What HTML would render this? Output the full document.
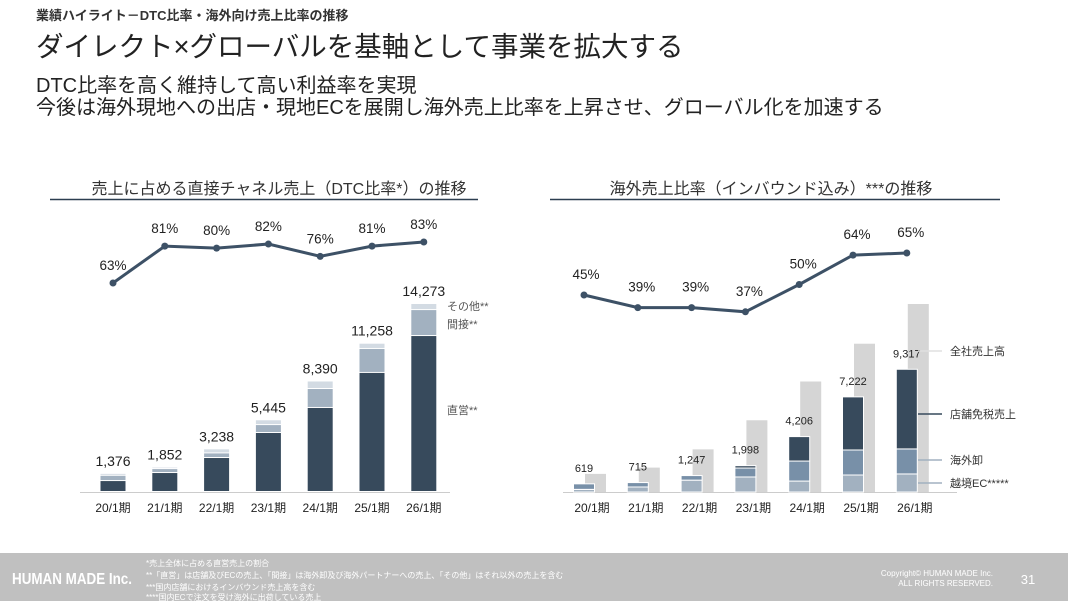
<!DOCTYPE html>
<html><head><meta charset="utf-8"><style>
body{margin:0;width:1068px;height:601px;overflow:hidden;background:#fff;font-family:"Liberation Sans","Noto Sans CJK JP",sans-serif;color:#222}
svg text{font-family:"Liberation Sans","Noto Sans CJK JP",sans-serif}
</style></head><body>
<svg id="s" width="1068" height="601" xmlns="http://www.w3.org/2000/svg">
<text x="36" y="20" font-size="13" font-weight="bold" fill="#333">業績ハイライト－DTC比率・海外向け売上比率の推移</text>
<text x="36" y="56" font-size="27.5" fill="#222">ダイレクト×グローバルを基軸として事業を拡大する</text>
<text x="36" y="92" font-size="20" fill="#222">DTC比率を高く維持して高い利益率を実現</text>
<text x="36" y="114" font-size="20" fill="#222">今後は海外現地への出店・現地ECを展開し海外売上比率を上昇させ、グローバル化を加速する</text>
<text x="279" y="194" font-size="16" text-anchor="middle" fill="#333">売上に占める直接チャネル売上（DTC比率*）の推移</text>
<line x1="50" y1="199.5" x2="478" y2="199.5" stroke="#2c3e50" stroke-width="1.5"/>
<text x="771" y="194" font-size="16" text-anchor="middle" fill="#333">海外売上比率（インバウンド込み）***の推移</text>
<line x1="550" y1="199.5" x2="1000" y2="199.5" stroke="#2c3e50" stroke-width="1.5"/>
<g id="L"></g><g id="R"></g>
<rect x="0" y="553" width="1068" height="48" fill="#c0c0c0"/>
<text x="12" y="584" font-size="16" font-weight="bold" fill="#fff" textLength="120" lengthAdjust="spacingAndGlyphs">HUMAN MADE Inc.</text>
<g font-size="8" fill="#fff">
<text x="146" y="566">*売上全体に占める直営売上の割合</text>
<text x="146" y="578">**「直営」は店舗及びECの売上、「間接」は海外卸及び海外パートナーへの売上、「その他」はそれ以外の売上を含む</text>
<text x="146" y="590">***国内店舗におけるインバウンド売上高を含む</text>
<text x="146" y="600">****国内ECで注文を受け海外に出荷している売上</text>
</g>
<text x="993" y="576" font-size="8" text-anchor="end" fill="#fff">Copyright© HUMAN MADE Inc.</text>
<text x="993" y="586" font-size="8" text-anchor="end" fill="#fff">ALL RIGHTS RESERVED.</text>
<text x="1028" y="584" font-size="13" text-anchor="middle" fill="#fff">31</text>
</svg>
<script>
const periods=["20/1期","21/1期","22/1期","23/1期","24/1期","25/1期","26/1期"];
const totalSales=[1376,1852,3238,5445,8390,11258,14273];
const direct=[830,1440,2580,4480,6380,9040,11840];
const indirect=[400,300,350,600,1440,1820,1970];
const other=[146,112,308,365,570,398,463];
const dtcRate=[63,81,80,82,76,81,83];
const overseasTotal=[619,715,1247,1998,4206,7222,9317];
const crossEC=[200,380,900,1140,830,1290,1370];
const wholesale=[419,335,347,680,1520,1900,1900];
const storeTaxFree=[0,0,0,178,1856,4032,6047];
const overseasRate=[45,39,39,37,50,64,65];

const NS="http://www.w3.org/2000/svg";
function mk(p,t,a,txt){const e=document.createElementNS(NS,t);for(const k in a)e.setAttribute(k,a[k]);if(txt!==undefined)e.textContent=txt;p.appendChild(e);return e;}
const base=492,scale=188/14273;
const yv=v=>base-v*scale;
const xL=i=>113+i*51.8;
const xR=i=>584+i*53.8;
const yPL=v=>283-(v-63)*2.05;
const yPR=v=>295-(v-45)*2.1;
const L=document.getElementById('L'),R=document.getElementById('R');

let e=mk(L,'line',{x1:80,y1:base+0.5,x2:450,y2:base+0.5,stroke:'#ccc'});


periods.forEach((p,i)=>{
  const x=xL(i),w=25;let y=base;
  [[direct[i],'#374a5c','bar-direct'],[indirect[i],'#a2b1c0','bar-indirect'],[other[i],'#d3dbe3','bar-other']].forEach(([v,c,n])=>{
    const h=v*scale;
    const r=mk(L,'rect',{x:x-w/2,y:y-h,width:w,height:Math.max(h-1,0),fill:c});
    
    
    y-=h;
  });
  const t=mk(L,'text',{x:x,y:yv(totalSales[i])-8,'font-size':14,'text-anchor':'middle',fill:'#222'},totalSales[i].toLocaleString('en-US'));
  
  
  const a=mk(L,'text',{x:x,y:512,'font-size':12,'text-anchor':'middle',fill:'#222'},p);
  
  
});
e=mk(L,'polyline',{points:dtcRate.map((v,i)=>xL(i)+','+yPL(v)).join(' '),fill:'none',stroke:'#3d5166','stroke-width':3});


dtcRate.forEach((v,i)=>{
  const c=mk(L,'circle',{cx:xL(i),cy:yPL(v),r:3.5,fill:'#3d5166'});
  
  
  const t=mk(L,'text',{x:xL(i),y:yPL(v)-13,'font-size':13.5,'text-anchor':'middle',fill:'#222'},v+'%');
  
  
});
[['その他**',310,'#555','legend-other'],['間接**',328,'#555','legend-indirect'],['直営**',414,'#555','legend-direct']].forEach(([s,y,c,n])=>{
  const t=mk(L,'text',{x:447,y:y,'font-size':11,fill:c},s);
  
  
});

e=mk(R,'line',{x1:563,y1:base+0.5,x2:957,y2:base+0.5,stroke:'#ccc'});


periods.forEach((p,i)=>{
  const x=xR(i),w=21;
  const g=mk(R,'rect',{x:x+1,y:yv(totalSales[i]),width:w,height:totalSales[i]*scale,fill:'#d5d5d5'});
  
  
  let y=base;
  [[crossEC[i],'#a2b1c0','bar-cross-border-ec'],[wholesale[i],'#7890a8','bar-overseas-wholesale'],[storeTaxFree[i],'#374a5c','bar-store-tax-free']].forEach(([v,c,n])=>{
    const h=v*scale;
    if(h<=0)return;
    const r=mk(R,'rect',{x:x-w/2,y:y-h,width:w,height:h,fill:c,stroke:'#fff','stroke-width':1});
    
    
    y-=h;
  });
  const t=mk(R,'text',{x:x,y:yv(overseasTotal[i])-12,'font-size':11,'text-anchor':'middle',fill:'#222'},overseasTotal[i].toLocaleString('en-US'));
  
  
  const a=mk(R,'text',{x:x+8,y:512,'font-size':12,'text-anchor':'middle',fill:'#222'},p);
  
  
});
e=mk(R,'polyline',{points:overseasRate.map((v,i)=>xR(i)+','+yPR(v)).join(' '),fill:'none',stroke:'#3d5166','stroke-width':3});


overseasRate.forEach((v,i)=>{
  const c=mk(R,'circle',{cx:xR(i),cy:yPR(v),r:3.5,fill:'#3d5166'});
  
  
  const t=mk(R,'text',{x:xR(i)+(i==0?2:4),y:yPR(v)-16,'font-size':13.5,'text-anchor':'middle',fill:'#222'},v+'%');
  
  
});
[['全社売上高',351,'#e0e0e0','legend-company-total'],['店舗免税売上',414,'#374a5c','legend-store-tax-free'],['海外卸',460,'#a2b1c0','legend-wholesale'],['越境EC*****',483,'#a2b1c0','legend-cross-border-ec']].forEach(([s,y,c,n])=>{
  const l=mk(R,'line',{x1:918,y1:y,x2:942,y2:y,stroke:c,'stroke-width':1.5});
  
  
  const t=mk(R,'text',{x:950,y:y+4,'font-size':11,fill:'#333'},s);
  
  
});
</script>
</body></html>
